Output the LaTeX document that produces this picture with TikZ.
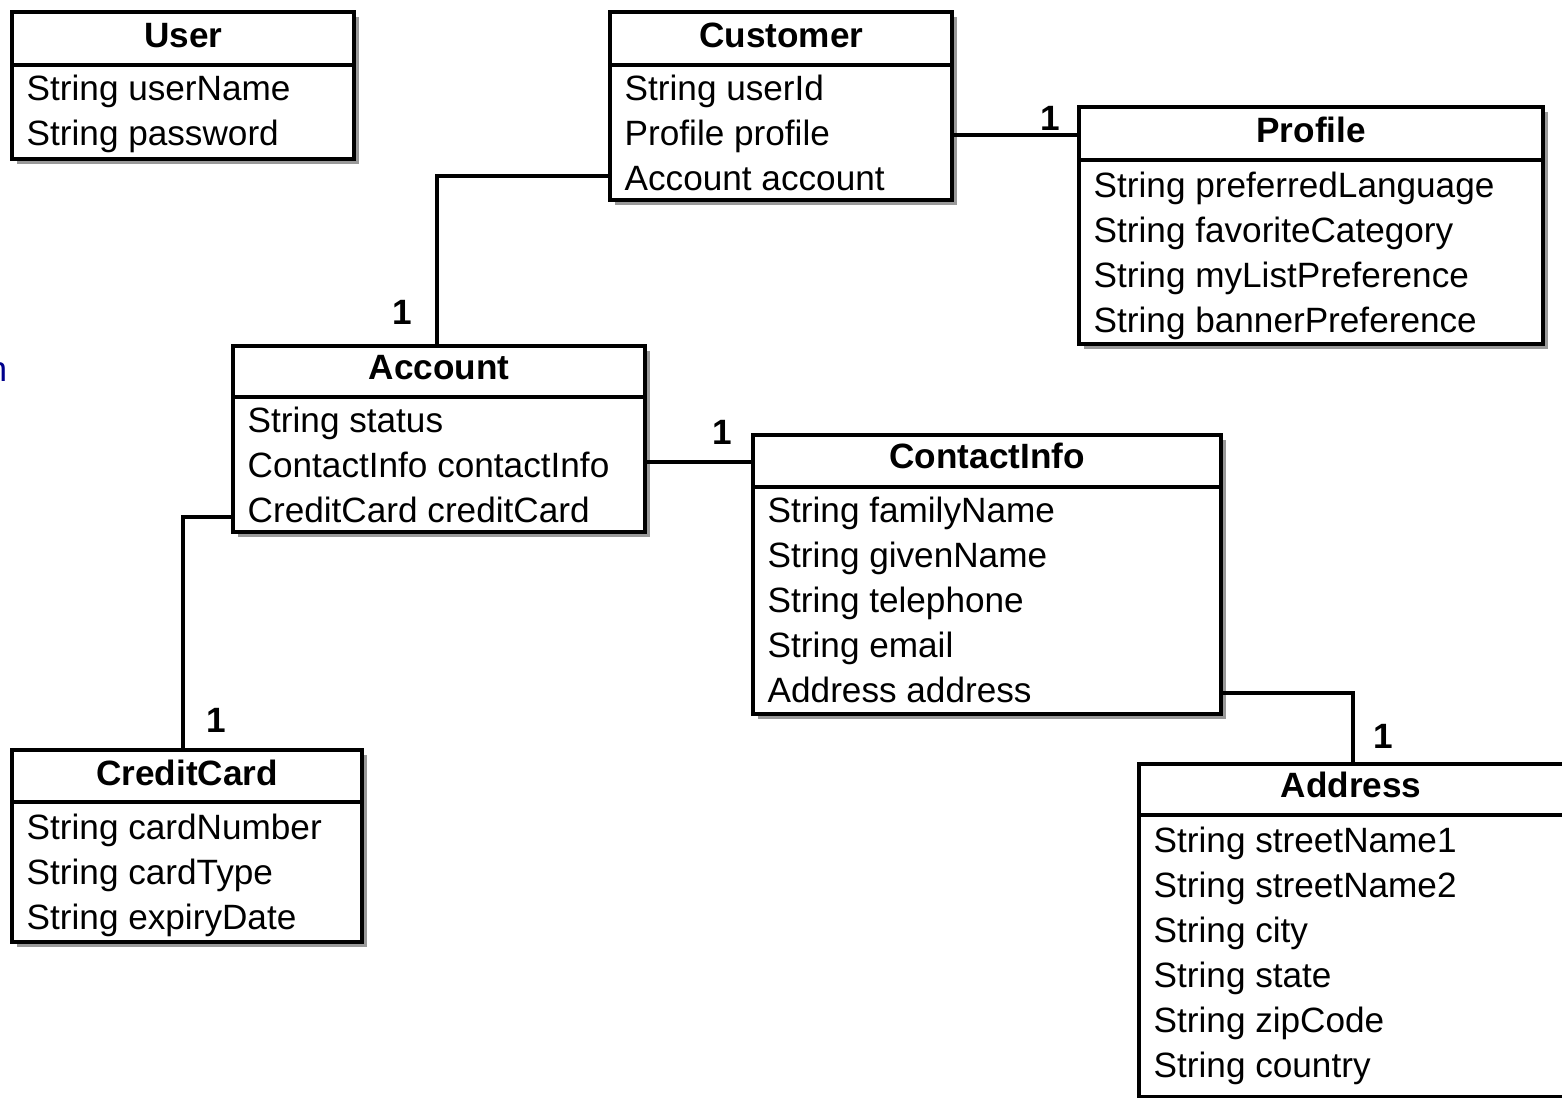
\documentclass[tikz,border=0pt]{standalone}
\usepackage{fontspec}
\setmainfont{Liberation Sans}
\usetikzlibrary{positioning,shadows}
\tikzset{
	% class boxes
	classbox/.style={
		draw=black, line width=1.2pt,
		fill=white, inner sep=0,
		anchor=north west,
		drop shadow={shadow xshift=0.045cm, shadow yshift=-0.045cm,
			fill=black!40, opacity=1}},
	divider/.style={line width=1.2pt},
	classname/.style={font=\fontsize{10}{12}\selectfont\bfseries, anchor=base, inner sep=0},
	% attribute lists sit on the baseline of their last line
	attrs/.style={font=\fontsize{10}{12.8}\selectfont, align=left, anchor=base west, inner sep=0},
	% links between classes
	link/.style={line width=0.9pt},
	mult/.style={font=\fontsize{10}{12}\selectfont\bfseries, inner sep=0}
}
\begin{document}
\begin{tikzpicture}[x=0.01cm,y=-0.01cm]
	\useasboundingbox (0,0) rectangle (1562,1098);
	\node[text=blue!55!black, font=\fontsize{10}{12}\selectfont, anchor=base east, inner sep=0] (cut) at (8,382) {n};
	% User
	\node[classbox, minimum width=3.42cm, minimum height=1.47cm] (user) at (10,10) {};
	\draw[divider] (user.west |- 0,65) -- (user.east |- 0,65);
	\node[classname] (usertitle) at (user.north |- 0,48) {User};
	\node[attrs] (userattr) at (26,146) {String userName\\String password};
	% Customer
	\node[classbox, minimum width=3.42cm, minimum height=1.88cm] (customer) at (608,10) {};
	\draw[divider] (customer.west |- 0,65) -- (customer.east |- 0,65);
	\node[classname] (customertitle) at (customer.north |- 0,48) {Customer};
	\node[attrs] (customerattr) at (624,191) {String userId\\Profile profile\\Account account};
	% Profile
	\node[classbox, minimum width=4.64cm, minimum height=2.37cm] (profile) at (1077,105) {};
	\draw[divider] (profile.west |- 0,160) -- (profile.east |- 0,160);
	\node[classname] (profiletitle) at (profile.north |- 0,143) {Profile};
	\node[attrs] (profileattr) at (1093,333) {String preferredLanguage\\String favoriteCategory\\String myListPreference\\String bannerPreference};
	% Account
	\node[classbox, minimum width=4.12cm, minimum height=1.86cm] (account) at (231,344) {};
	\draw[divider] (account.west |- 0,397) -- (account.east |- 0,397);
	\node[classname] (accounttitle) at (account.north |- 0,380) {Account};
	\node[attrs] (accountattr) at (247,523) {String status\\ContactInfo contactInfo\\CreditCard creditCard};
	% ContactInfo
	\node[classbox, minimum width=4.68cm, minimum height=2.79cm] (contact) at (751,433) {};
	\draw[divider] (contact.west |- 0,487) -- (contact.east |- 0,487);
	\node[classname] (contacttitle) at (contact.north |- 0,469) {ContactInfo};
	\node[attrs] (contactattr) at (767,703) {String familyName\\String givenName\\String telephone\\String email\\Address address};
	% CreditCard
	\node[classbox, minimum width=3.50cm, minimum height=1.92cm] (card) at (10,748) {};
	\draw[divider] (card.west |- 0,802) -- (card.east |- 0,802);
	\node[classname] (cardtitle) at (card.north |- 0,786) {CreditCard};
	\node[attrs] (cardattr) at (26,930) {String cardNumber\\String cardType\\String expiryDate};
	% Address
	\node[classbox, minimum width=4.40cm, minimum height=3.33cm] (address) at (1137,762) {};
	\draw[divider] (address.west |- 0,815) -- (address.east |- 0,815);
	\node[classname] (addresstitle) at (1351,798) {Address};
	\node[attrs] (addressattr) at (1153,1078) {String streetName1\\String streetName2\\String city\\String state\\String zipCode\\String country};
	% links
	\draw[link] (customer.east |- 0,135) -- (profile.west |- 0,135);
	\draw[link] (customer.west |- 0,176) -| (437,0 |- account.north);
	\draw[link] (account.east |- 0,462) -- (contact.west |- 0,462);
	\draw[link] (account.west |- 0,517) -| (183,0 |- card.north);
	\draw[link] (contact.east |- 0,693) -| (1353,0 |- address.north);
	% multiplicities
	\node[mult] (m1) at (1050,118) {1};
	\node[mult] (m2) at (402,312) {1};
	\node[mult] (m3) at (722,432) {1};
	\node[mult] (m4) at (216,720) {1};
	\node[mult] (m5) at (1383,736) {1};
\end{tikzpicture}
\end{document}
